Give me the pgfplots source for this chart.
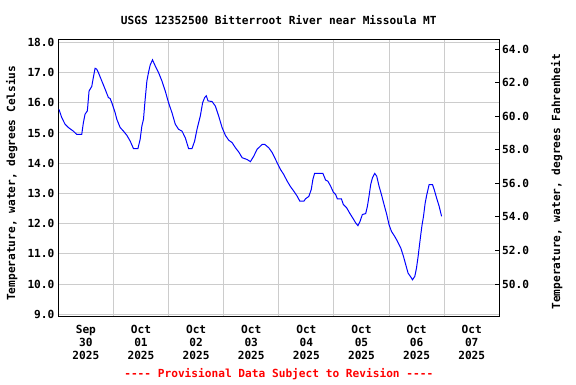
\documentclass[border=0pt]{standalone}
\usepackage{fontspec}
\setmonofont{DejaVu Sans Mono}
\renewcommand\familydefault{\ttdefault}
\usepackage{pgfplots}
\pgfplotsset{compat=1.18}
\newcommand\F{\fontsize{11.2}{13}\selectfont\ttfamily\bfseries}
\begin{document}
\F
\begin{tikzpicture}[x=1bp,y=1bp]
\useasboundingbox (0,0) rectangle (576,384);
\begin{axis}[
  at={(58.3bp,68bp)}, anchor=south west, scale only axis,
  width=441bp, height=276.7bp,
  xmin=0, xmax=8, ymin=8.94, ymax=18.1,
  axis line style={black, line width=0.8pt},
  xtick={0.5,1.5,2.5,3.5,4.5,5.5,6.5,7.5},
  xticklabels={{Sep\\30\\2025},{Oct\\01\\2025},{Oct\\02\\2025},{Oct\\03\\2025},{Oct\\04\\2025},{Oct\\05\\2025},{Oct\\06\\2025},{Oct\\07\\2025}},
  xticklabel style={align=center, font=\F, yshift=-5pt},
  minor xtick={1,2,3,4,5,6,7},
  xminorgrids, ymajorgrids,
  ytick={9,10,...,18},
  /pgf/number format/fixed, /pgf/number format/fixed zerofill, /pgf/number format/precision=1, /pgf/number format/assume math mode=true,
  yticklabel style={font=\F},
  tick style={draw=none},
  grid style={gray!40, line width=0.9pt},
  minor grid style={gray!40, line width=0.9pt},
  ylabel={Temperature, water, degrees Celsius},
  ylabel style={at={(axis description cs:-0.1057,0.48)}, anchor=center, font=\F},
]
\addplot[blue, line width=1pt] coordinates {
(0.013,15.78) (0.062,15.51) (0.122,15.29) (0.182,15.18) (0.273,15.06) (0.335,14.95)
(0.425,14.95) (0.455,15.34) (0.485,15.62) (0.527,15.73) (0.558,16.39) (0.607,16.54)
(0.636,16.84) (0.667,17.14) (0.698,17.11) (0.727,17.0) (0.789,16.72) (0.849,16.45)
(0.909,16.17) (0.940,16.14) (0.971,16.0) (1.031,15.67) (1.062,15.45) (1.122,15.18)
(1.182,15.06) (1.244,14.92) (1.304,14.73) (1.364,14.48) (1.444,14.48) (1.485,14.79)
(1.516,15.23) (1.545,15.45) (1.576,16.12) (1.607,16.72) (1.636,17.0) (1.667,17.25)
(1.709,17.42) (1.758,17.22) (1.818,17.0) (1.880,16.72) (1.940,16.39) (2.0,16.0)
(2.062,15.67) (2.122,15.29) (2.182,15.12) (2.244,15.06) (2.304,14.84) (2.364,14.48)
(2.425,14.48) (2.473,14.73) (2.516,15.12) (2.576,15.56) (2.618,16.0) (2.655,16.17)
(2.685,16.23) (2.716,16.06) (2.789,16.04) (2.849,15.89) (2.909,15.56) (2.971,15.18)
(3.031,14.92) (3.091,14.76) (3.153,14.68) (3.213,14.51) (3.273,14.37) (3.335,14.18)
(3.425,14.12) (3.485,14.05) (3.545,14.23) (3.607,14.46) (3.698,14.62) (3.745,14.62)
(3.818,14.51) (3.880,14.35) (3.971,14.01) (4.031,13.79) (4.091,13.62) (4.153,13.40)
(4.213,13.22) (4.273,13.07) (4.335,12.90) (4.382,12.74) (4.455,12.74) (4.485,12.82)
(4.545,12.90) (4.589,13.13) (4.618,13.46) (4.649,13.66) (4.800,13.66) (4.849,13.44)
(4.891,13.40) (4.940,13.24) (4.989,13.04) (5.031,12.96) (5.062,12.82) (5.135,12.82)
(5.171,12.63) (5.231,12.52) (5.291,12.33) (5.353,12.15) (5.395,12.02) (5.436,11.93)
(5.473,12.07) (5.516,12.30) (5.576,12.33) (5.607,12.57) (5.636,12.90) (5.667,13.29)
(5.698,13.51) (5.740,13.66) (5.776,13.57) (5.818,13.24) (5.862,12.96) (5.909,12.63)
(5.958,12.30) (6.0,11.96) (6.044,11.74) (6.104,11.57) (6.153,11.41) (6.213,11.19)
(6.262,10.91) (6.304,10.63) (6.345,10.36) (6.395,10.23) (6.425,10.14) (6.467,10.25)
(6.498,10.53) (6.527,10.91) (6.564,11.47) (6.595,11.91) (6.625,12.24) (6.655,12.68)
(6.685,12.96) (6.727,13.29) (6.789,13.29) (6.818,13.13) (6.862,12.85) (6.909,12.57)
(6.953,12.24)
};
\end{axis}
\begin{axis}[
  at={(58.3bp,68bp)}, anchor=south west, scale only axis,
  width=441bp, height=276.7bp,
  xmin=0, xmax=8, ymin=48.092, ymax=64.58,
  axis x line=none, axis y line*=right,
  axis line style={black, line width=0.8pt},
  ytick={50,52,...,64},
  tick align=inside, major tick length=4bp,
  tick style={black, line width=0.8pt},
  /pgf/number format/fixed, /pgf/number format/fixed zerofill, /pgf/number format/precision=1, /pgf/number format/assume math mode=true,
  yticklabel style={font=\F, xshift=-1pt},
  ylabel={Temperature, water, degrees Fahrenheit},
  ylabel style={at={(axis description cs:1.130,0.485)}, anchor=center, font=\F},
]
\addplot[draw=none] coordinates {(0,50)};
\end{axis}
\node[font=\F] at (278.8,364) {USGS 12352500 Bitterroot River near Missoula MT};
\node[red, font=\F] at (278.8,10) {---- Provisional Data Subject to Revision ----};
\end{tikzpicture}
\end{document}
